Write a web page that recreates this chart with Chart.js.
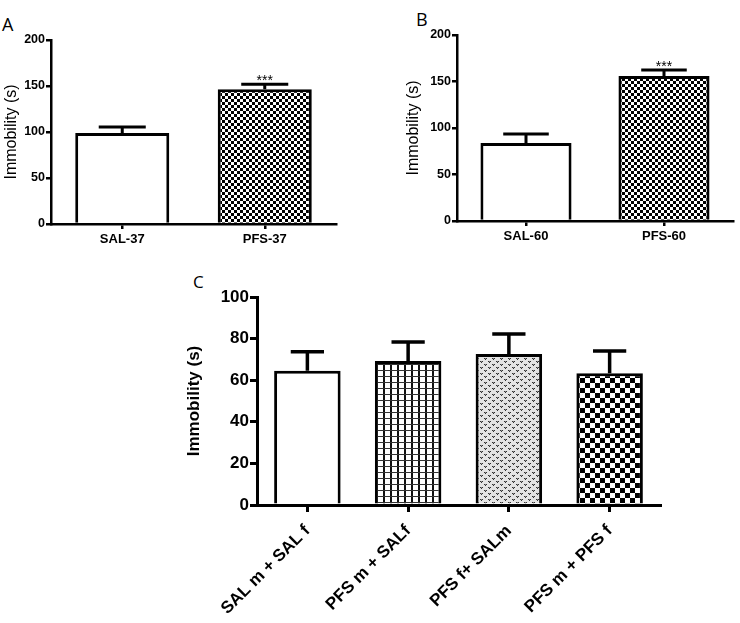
<!DOCTYPE html>
<html>
<head>
<meta charset="utf-8">
<script src="https://cdn.jsdelivr.net/npm/chart.js@4.4.1/dist/chart.umd.min.js"></script>
<style>
  body { margin: 0; background: #fff; width: 740px; height: 623px; position: relative; overflow: hidden; }
  canvas { position: absolute; }
  .tag { position: absolute; font: 18px "Open Sans", sans-serif; line-height: 1; color: #000; }
</style>
</head>
<body>
<div class="tag" style="left:2px;top:15px">A</div>
<div class="tag" style="left:416px;top:10px">B</div>
<div class="tag" style="left:193px;top:273px;font-size:17px">C</div>
<canvas id="chartA" width="345" height="262" style="left:0;top:0"></canvas>
<canvas id="chartB" width="340" height="262" style="left:400px;top:0"></canvas>
<canvas id="chartC" width="500" height="355" style="left:180px;top:268px"></canvas>
<script>
// values (mean and SEM, seconds)
const catsA = ["SAL-37", "PFS-37"];
const meansA = [99, 146.5];
const semA = [6.5, 5.5];
const starsA = ["", "***"];

const catsB = ["SAL-60", "PFS-60"];
const meansB = [84, 156];
const semB = [9.5, 6.5];
const starsB = ["", "***"];

const catsC = ["SAL m + SAL f", "PFS m + SALf", "PFS f+ SALm", "PFS m + PFS f"];
const meansC = [64.5, 69.2, 72.6, 63.3];
const semC = [9.2, 9.2, 9.6, 10.7];
const starsC = ["", "", "", ""];

const yMaxAB = 200, yStepAB = 50;
const yMaxC = 100, yStepC = 20;

// little fill textures
function pattern(w, h, draw) {
  const c = document.createElement("canvas"); c.width = w; c.height = h;
  const g = c.getContext("2d");
  g.fillStyle = "#fff"; g.fillRect(0, 0, w, h);
  draw(g);
  return g.createPattern(c, "repeat");
}
const checkSmall = pattern(6, 6, g => { g.fillStyle = "#000"; g.fillRect(0, 0, 3, 3); g.fillRect(3, 3, 3, 3); });
const checkBig = pattern(10, 10, g => { g.fillStyle = "#000"; g.fillRect(0, 0, 5, 5); g.fillRect(5, 5, 5, 5); });
const grid = pattern(7, 6, g => { g.fillStyle = "#111"; g.fillRect(0, 0, 2, 6); g.fillStyle = "#333"; g.fillRect(0, 0, 7, 1); });
const dots = pattern(8, 6, g => {
  g.fillStyle = "#e4e4e4"; g.fillRect(0, 0, 8, 6);
  g.fillStyle = "#333";
  g.fillRect(0, 0, 1, 1); g.fillRect(2, 0, 1, 1); g.fillRect(1, 1, 1, 1);
  g.fillRect(4, 3, 1, 1); g.fillRect(6, 3, 1, 1); g.fillRect(5, 4, 1, 1);
  g.fillStyle = "#888"; g.fillRect(1, 0, 1, 1); g.fillRect(5, 3, 1, 1);
});

const errorBars = {
  id: "errorBars",
  afterDatasetsDraw(chart) {
    const ctx = chart.ctx, y = chart.scales.y;
    const ds = chart.data.datasets[0];
    ctx.save();
    ctx.strokeStyle = "#000"; ctx.fillStyle = "#000"; ctx.lineWidth = ds.errWidth;
    chart.getDatasetMeta(0).data.forEach((bar, i) => {
      const top = y.getPixelForValue(ds.data[i] + ds.sem[i]);
      const half = bar.width / 4;
      ctx.beginPath();
      ctx.moveTo(bar.x, bar.y); ctx.lineTo(bar.x, top);
      ctx.moveTo(bar.x - half, top); ctx.lineTo(bar.x + half, top);
      ctx.stroke();
      if (ds.stars[i]) {
        ctx.font = '14px "Liberation Sans", Arial, sans-serif';
        ctx.textAlign = "center"; ctx.textBaseline = "alphabetic";
        ctx.fillText(ds.stars[i], bar.x, top + 1);
      }
    });
    ctx.restore();
  }
};

function panel(id, cats, means, sem, stars, fills, o) {
  const font = (size, bold) => ({ family: '"Liberation Sans", Arial, sans-serif', size: size, weight: bold ? "bold" : "normal" });
  return new Chart(document.getElementById(id), {
    type: "bar",
    data: {
      labels: cats,
      datasets: [{ data: means, sem: sem, stars: stars, errWidth: o.lw + 0.5,
        backgroundColor: fills, borderColor: "#000", borderWidth: 3,
        barPercentage: 0.66, categoryPercentage: 1 }]
    },
    options: {
      responsive: false, animation: false, events: [],
      layout: { padding: o.pad },
      plugins: { legend: { display: false }, tooltip: { enabled: false } },
      scales: {
        x: {
          grid: { offset: false, drawOnChartArea: false, color: "#000", lineWidth: o.lw, tickLength: o.tl },
          border: { color: "#000", width: o.lw, z: 1 },
          ticks: { color: "#000", font: font(o.xSize, true), padding: o.xPad, autoSkip: false, minRotation: o.rot, maxRotation: o.rot },
          afterFit: s => { s.height = o.xh; }
        },
        y: {
          min: 0, max: o.max,
          grid: { drawOnChartArea: false, color: "#000", lineWidth: o.lw, tickLength: o.tl },
          border: { color: "#000", width: o.lw },
          ticks: { stepSize: o.step, color: "#000", font: font(o.ySize, true), padding: 1 },
          title: { display: true, text: "Immobility (s)", color: "#000", font: font(o.tSize, o.tBold), padding: { top: o.tp, bottom: 0 } },
          afterFit: s => { s.width = o.yw; }
        }
      }
    },
    plugins: [errorBars]
  });
}

panel("chartA", catsA, meansA, semA, starsA, ["#fff", checkSmall],
  { pad: { top: 40, right: 9, bottom: 0, left: 0 }, yw: 51, xh: 38, max: yMaxAB, step: yStepAB,
    lw: 2.5, tl: 5, xSize: 13, xPad: 3, rot: 0, ySize: 12.5, tSize: 16, tBold: false, tp: 2 });

panel("chartB", catsB, meansB, semB, starsB, ["#fff", checkSmall],
  { pad: { top: 35, right: 7, bottom: 0, left: 0 }, yw: 57, xh: 41, max: yMaxAB, step: yStepAB,
    lw: 2.5, tl: 5, xSize: 13, xPad: 3, rot: 0, ySize: 12.5, tSize: 16, tBold: false, tp: 4 });

panel("chartC", catsC, meansC, semC, starsC, ["#fff", grid, dots, checkBig],
  { pad: { top: 29, right: 20, bottom: 0, left: 0 }, yw: 77, xh: 118, max: yMaxC, step: yStepC,
    lw: 3, tl: 7, xSize: 17, xPad: 9, rot: 45, ySize: 17, tSize: 17, tBold: true, tp: 4 });
</script>
</body>
</html>
